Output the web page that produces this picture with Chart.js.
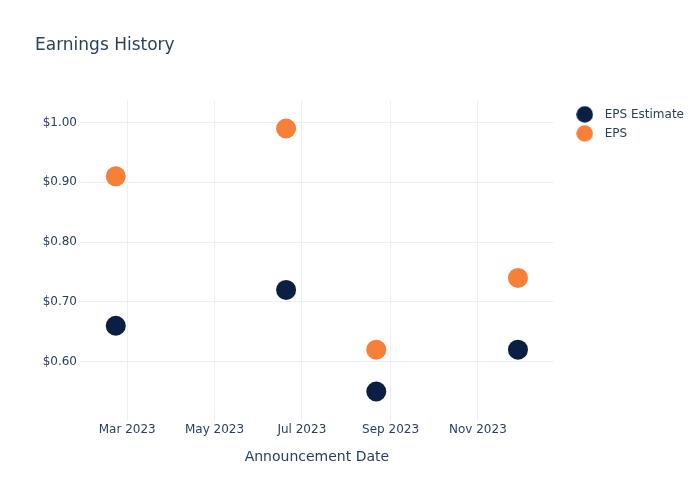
<!DOCTYPE html>
<html>
<head>
<meta charset="utf-8">
<script src="https://cdn.jsdelivr.net/npm/chart.js@4.4.0/dist/chart.umd.min.js"></script>
<style>
  html, body { margin: 0; padding: 0; background: #fff; }
  #wrap { width: 700px; height: 500px; }
</style>
</head>
<body>
<div id="wrap"><canvas id="earningsChart"></canvas></div>
<script>
// announcement dates and values
const dates = ['2023-02-21', '2023-06-20', '2023-08-22', '2023-11-29'];
const epsEstimate = [0.66, 0.72, 0.55, 0.62];
const epsActual = [0.91, 0.99, 0.62, 0.74];

const xTickDates = ['2023-03-01', '2023-05-01', '2023-07-01', '2023-09-01', '2023-11-01'];
const yTicks = [0.6, 0.7, 0.8, 0.9, 1.0];
const xRange = ['2023-01-27', '2023-12-24'];
const yRange = [0.501, 1.037];

const months = ['Jan', 'Feb', 'Mar', 'Apr', 'May', 'Jun', 'Jul', 'Aug', 'Sep', 'Oct', 'Nov', 'Dec'];
const toMs = s => Date.parse(s + 'T00:00:00Z');
const points = vals => vals.map((v, i) => ({ x: toMs(dates[i]), y: v }));

const textColor = '#2a3f5f';
const gridColor = '#ebf0f8';
const font = 'DejaVu Sans';

// small round legend marker, drawn on its own canvas
function dot(color) {
    const c = document.createElement('canvas');
    c.width = 17;
    c.height = 17;
    const g = c.getContext('2d');
    g.fillStyle = color;
    g.beginPath();
    g.arc(8.5, 8.5, 8.3, 0, Math.PI * 2);
    g.fill();
    return c;
}

// nudge the legend away from the plot, like the reference
const legendGap = {
    id: 'legendGap',
    afterLayout(chart) {
        if (chart.legend) {
            chart.legend.left += 10;
            chart.legend.top += 1;
            chart.legend.right = chart.width;
        }
    }
};

document.addEventListener('DOMContentLoaded', function () {
    const ctx = document.getElementById('earningsChart');
    new Chart(ctx, {
        type: 'scatter',
        data: {
            datasets: [{
                label: 'EPS Estimate',
                data: points(epsEstimate),
                backgroundColor: '#0b1f42',
                borderWidth: 0,
                pointRadius: 10,
                pointHoverRadius: 10
            }, {
                label: 'EPS',
                data: points(epsActual),
                backgroundColor: '#f68038',
                borderWidth: 0,
                pointRadius: 10,
                pointHoverRadius: 10
            }]
        },
        plugins: [legendGap],
        options: {
            responsive: true,
            maintainAspectRatio: false,
            animation: false,
            layout: { padding: { left: 35, right: 16, top: 0, bottom: 30 } },
            plugins: {
                title: {
                    display: true,
                    text: 'Earnings History',
                    align: 'start',
                    color: textColor,
                    font: { family: font, size: 17, weight: 'normal' },
                    padding: { top: 35, bottom: 45 }
                },
                legend: {
                    position: 'right',
                    align: 'start',
                    fullSize: false,
                    labels: {
                        usePointStyle: true,
                        pointStyleWidth: 28,
                        padding: 7,
                        color: textColor,
                        font: { family: font, size: 12 },
                        generateLabels: chart =>
                            Chart.defaults.plugins.legend.labels.generateLabels(chart)
                                .map(item => ({ ...item, pointStyle: dot(item.fillStyle) }))
                    }
                },
                tooltip: { enabled: false }
            },
            scales: {
                x: {
                    type: 'linear',
                    min: toMs(xRange[0]),
                    max: toMs(xRange[1]),
                    afterBuildTicks: axis => {
                        axis.ticks = xTickDates.map(d => ({ value: toMs(d) }));
                    },
                    ticks: {
                        color: textColor,
                        font: { family: font, size: 12 },
                        padding: 2,
                        maxRotation: 0,
                        callback: v => {
                            const d = new Date(v);
                            return months[d.getUTCMonth()] + ' ' + d.getUTCFullYear();
                        }
                    },
                    grid: { color: gridColor, drawTicks: false },
                    border: { display: false },
                    title: {
                        display: true,
                        text: 'Announcement Date',
                        color: textColor,
                        font: { family: font, size: 14 },
                        padding: { top: 10 }
                    }
                },
                y: {
                    min: yRange[0],
                    max: yRange[1],
                    afterBuildTicks: axis => {
                        axis.ticks = yTicks.map(v => ({ value: v }));
                    },
                    afterFit: axis => { axis.width = 45; },
                    ticks: {
                        color: textColor,
                        font: { family: font, size: 12 },
                        padding: 3,
                        callback: v => '$' + v.toFixed(2)
                    },
                    grid: { color: gridColor, drawTicks: false },
                    border: { display: false }
                }
            }
        }
    });
});
</script>
</body>
</html>
